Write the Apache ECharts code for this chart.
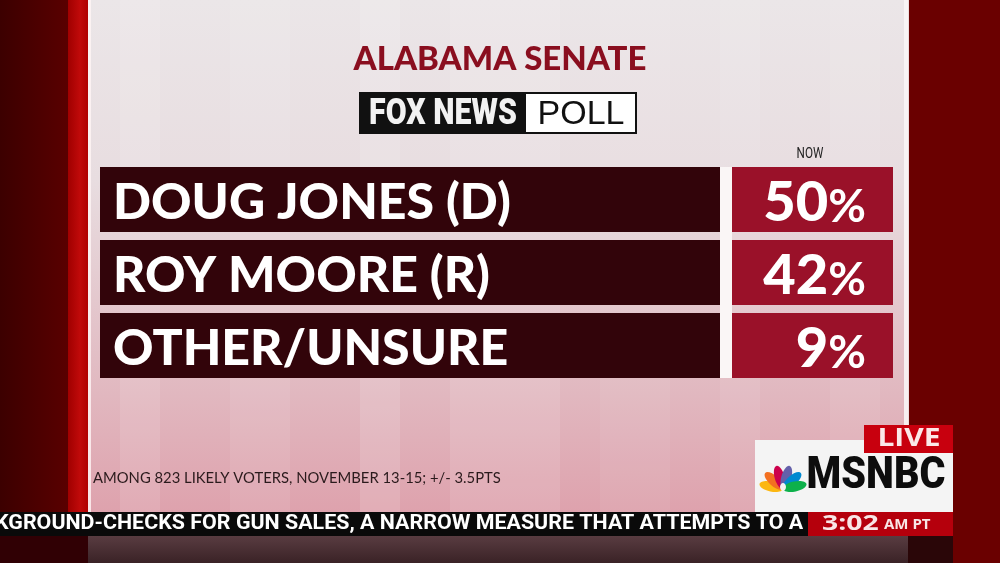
<!DOCTYPE html>
<html>
<head>
<meta charset="utf-8">
<script src="https://cdn.jsdelivr.net/npm/echarts@6/dist/echarts.min.js"></script>
<style>
html,body{margin:0;padding:0;background:#000;}
#chart{width:1000px;height:563px;}
</style>
</head>
<body>
<div id="chart"></div>
<script>
// ---- data ----
const categories = ['DOUG JONES (D)', 'ROY MOORE (R)', 'OTHER/UNSURE'];
const values = [50, 42, 9];
const columnLabel = 'NOW';
const title = 'ALABAMA SENATE';
const footnote = 'AMONG 823 LIKELY VOTERS, NOVEMBER 13-15; +/- 3.5PTS';
const tickerText = 'KGROUND-CHECKS FOR GUN SALES, A NARROW MEASURE THAT ATTEMPTS TO A';
const clockTime = '3:02';
const clockZone = 'AM PT';

const chart = echarts.init(document.getElementById('chart'), null, {renderer: 'canvas'});

const feathers = ['#fcb711', '#f37021', '#cc004c', '#6460aa', '#0089d0', '#0db14b'];
const featherAngles = [78, 48, 16, -16, -48, -78];
const peacock = feathers.map((c, i) => ({
  type: 'ellipse', x: 783, y: 489, rotation: featherAngles[i] * Math.PI / 180,
  shape: {cx: 0, cy: -12, rx: 5, ry: 12}, style: {fill: c}, z: 101
}));

const stripes = [[120, 40, 0.10], [230, 60, 0.08], [360, 40, 0.12], [450, 110, 0.10], [600, 70, 0.06], [720, 40, 0.08], [830, 50, 0.07]].map(s => ({
  type: 'rect', shape: {x: s[0], y: 0, width: s[1], height: 512},
  style: {fill: 'rgba(255,255,255,' + s[2] + ')'}, z: -9
}));

const option = {
  animation: false,
  backgroundColor: '#4a0000',
  grid: [
    {left: 100, width: 620, top: 163, height: 219},
    {left: 732, width: 161, top: 163, height: 219}
  ],
  xAxis: [
    {gridIndex: 0, type: 'value', min: 0, max: 100, show: false},
    {gridIndex: 1, type: 'value', min: 0, max: 100, show: false, inverse: true}
  ],
  yAxis: [
    {gridIndex: 0, type: 'category', data: categories, inverse: true, show: false},
    {gridIndex: 1, type: 'category', data: categories, inverse: true, show: false}
  ],
  series: [
    {
      type: 'bar', xAxisIndex: 0, yAxisIndex: 0, data: values, barWidth: 65,
      itemStyle: {color: 'rgba(0,0,0,0)'},
      showBackground: true, backgroundStyle: {color: '#32040a', opacity: 1},
      label: {
        show: true, position: 'insideLeft', distance: 13, offset: [0, 3],
        formatter: p => p.name,
        color: '#ffffff', fontFamily: 'Lato', fontWeight: 900, fontSize: 50
      }
    },
    {
      type: 'bar', xAxisIndex: 1, yAxisIndex: 1, data: values, barWidth: 65,
      itemStyle: {color: 'rgba(0,0,0,0)'},
      showBackground: true, backgroundStyle: {color: '#9a1129', opacity: 1},
      label: {
        show: true, position: 'insideRight', distance: 27, offset: [0, 3],
        formatter: p => '{v|' + p.value + '}{p|%}',
        rich: {
          v: {color: '#ffffff', fontFamily: 'Lato', fontWeight: 900, fontSize: 56, verticalAlign: 'bottom', lineHeight: 56},
          p: {color: '#ffffff', fontFamily: 'Lato', fontWeight: 700, fontSize: 46, verticalAlign: 'bottom', lineHeight: 56}
        }
      }
    }
  ],
  graphic: [
    // left background
    {type: 'rect', shape: {x: 0, y: 0, width: 70, height: 563}, z: -10,
      style: {fill: new echarts.graphic.LinearGradient(0, 0, 1, 0, [{offset: 0, color: '#3c0000'}, {offset: 1, color: '#5a0000'}])}},
    {type: 'rect', shape: {x: 68, y: 0, width: 20, height: 563}, z: -10,
      style: {fill: new echarts.graphic.LinearGradient(0, 0, 1, 0, [{offset: 0, color: '#a00000'}, {offset: 0.6, color: '#c00a0a'}, {offset: 1, color: '#b00000'}])}},
    // right background
    {type: 'rect', shape: {x: 905, y: 0, width: 95, height: 563}, z: -10, style: {fill: '#6a0000'}},
    // panel
    {type: 'rect', shape: {x: 88, y: 0, width: 820, height: 512}, z: -10,
      style: {fill: new echarts.graphic.LinearGradient(0, 0, 0, 1, [{offset: 0, color: '#ebe6e8'}, {offset: 0.35, color: '#e8dde0'}, {offset: 0.7, color: '#e2bec5'}, {offset: 1, color: '#dea2ad'}])}},
    {type: 'rect', shape: {x: 88, y: 0, width: 3, height: 512}, z: -8, style: {fill: 'rgba(255,245,245,0.8)'}},
    {type: 'rect', shape: {x: 904, y: 0, width: 5, height: 512}, z: -8, style: {fill: 'rgba(250,245,246,0.9)'}},
    ...stripes,
    // below ticker
    {type: 'rect', shape: {x: 88, y: 535, width: 820, height: 28}, z: -10,
      style: {fill: new echarts.graphic.LinearGradient(0, 0, 0, 1, [{offset: 0, color: '#5a3d42'}, {offset: 1, color: '#3a2226'}])}},
    {type: 'rect', shape: {x: 0, y: 535, width: 88, height: 28}, z: -10, style: {fill: '#300004'}},
    {type: 'rect', shape: {x: 908, y: 535, width: 45, height: 28}, z: -10, style: {fill: '#2a0608'}},
    // white separator between name bar and value box
    {type: 'rect', shape: {x: 720, y: 167, width: 12, height: 211}, z: -5, style: {fill: '#faf6f6'}},
    // title
    {type: 'text', x: 500, y: 59, z: 10,
      style: {text: title, fill: '#8a0e1f', font: '900 33px Lato', textAlign: 'center', textVerticalAlign: 'middle'}},
    // FOX NEWS POLL logo
    {type: 'rect', shape: {x: 360, y: 93, width: 276, height: 40}, z: 10, style: {fill: '#ffffff', stroke: '#111', lineWidth: 2}},
    {type: 'rect', shape: {x: 360, y: 93, width: 166, height: 40}, z: 11, style: {fill: '#111111'}},
    {type: 'text', x: 443, y: 115, z: 12, scaleX: 0.82,
      style: {text: 'FOX NEWS', fill: '#f2f2f2', font: '900 37px Roboto', textAlign: 'center', textVerticalAlign: 'middle'}},
    {type: 'text', x: 581, y: 115, z: 12,
      style: {text: 'POLL', fill: '#111111', font: '34px "Liberation Sans"', textAlign: 'center', textVerticalAlign: 'middle'}},
    // column label
    {type: 'text', x: 810, y: 154, z: 10, scaleX: 0.78,
      style: {text: columnLabel, fill: '#222', font: '15px Roboto', textAlign: 'center', textVerticalAlign: 'middle'}},
    // footnote
    {type: 'text', x: 93, y: 478, z: 10,
      style: {text: footnote, fill: '#2a1a1c', font: '14.8px Lato', textAlign: 'left', textVerticalAlign: 'middle'}},
    // ticker
    {type: 'rect', shape: {x: 0, y: 512, width: 810, height: 24}, z: 100, style: {fill: '#0a0a0a'}},
    {type: 'text', x: -5, y: 524, z: 101, scaleX: 1.02,
      style: {text: tickerText, fill: '#ffffff', font: 'bold 21px Roboto', textAlign: 'left', textVerticalAlign: 'middle'}},
    {type: 'rect', shape: {x: 808, y: 512, width: 145, height: 24}, z: 102, style: {fill: '#b5000c'}},
    {type: 'text', x: 822, y: 524, z: 103, scaleX: 1.35,
      style: {text: clockTime, fill: '#f8e6e6', font: 'bold 21px "Open Sans"', textAlign: 'left', textVerticalAlign: 'middle'}},
    {type: 'text', x: 884, y: 525, z: 103,
      style: {text: clockZone, fill: '#f8e6e6', font: 'bold 15px "Open Sans"', textAlign: 'left', textVerticalAlign: 'middle'}},
    // MSNBC bug
    {type: 'rect', shape: {x: 755, y: 440, width: 198, height: 72}, z: 100, style: {fill: '#f4f4f4'}},
    {type: 'rect', shape: {x: 864, y: 425, width: 89, height: 28}, z: 101, style: {fill: '#c8000e'}},
    {type: 'text', x: 909, y: 439, z: 102, scaleX: 1.2,
      style: {text: 'LIVE', fill: '#fbe8e8', font: 'bold 25px "Open Sans"', textAlign: 'center', textVerticalAlign: 'middle'}},
    ...peacock,
    {type: 'ellipse', shape: {cx: 783, cy: 487, rx: 3, ry: 4}, style: {fill: '#f4f4f4'}, z: 102},
    {type: 'text', x: 876, y: 477, z: 102, scaleX: 0.88,
      style: {text: 'MSNBC', fill: '#0d0d0d', font: '900 45px Roboto', textAlign: 'center', textVerticalAlign: 'middle'}}
  ]
};
chart.setOption(option);
</script>
</body>
</html>
